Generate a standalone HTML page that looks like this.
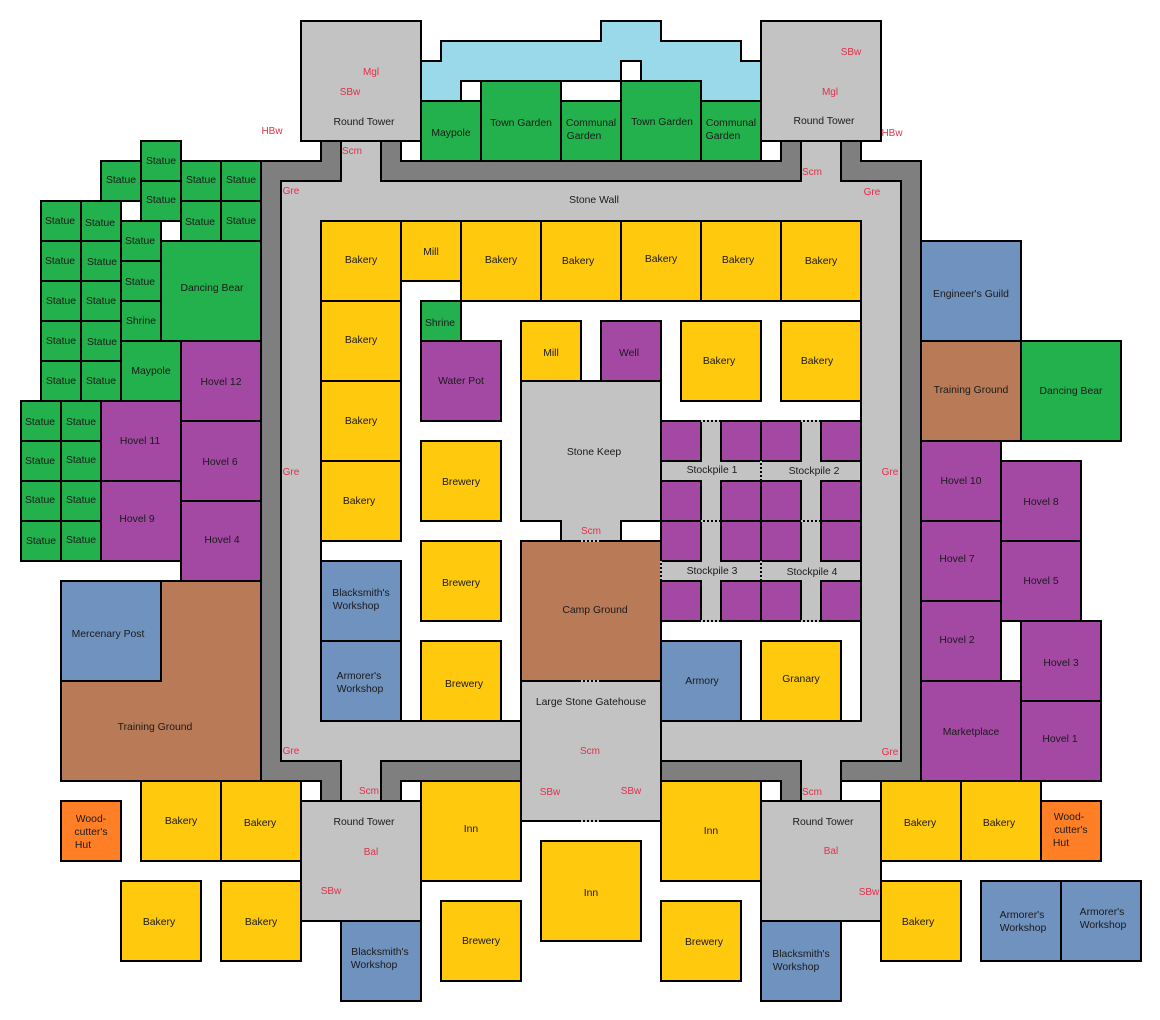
<!DOCTYPE html>
<html><head><meta charset="utf-8"><style>
html,body{margin:0;padding:0;background:#fff}
svg{display:block}
rect,polygon{stroke:#000;stroke-width:2}
.y{fill:#ffc90e}.g{fill:#22b14c}.p{fill:#a349a4}.b{fill:#7092be}.w{fill:#b97a57}.o{fill:#ff7f27}.s{fill:#c3c3c3}.d{fill:#7f7f7f}.a{fill:#99d9ea}.n{fill:#fff}
.np{stroke:none}
text{font-family:"Liberation Sans",sans-serif;font-size:10.4px;fill:#1a1a1a;text-anchor:middle}
.r text{fill:#e0304a;font-size:10px}
.dot{stroke:#000;stroke-width:2;stroke-dasharray:2 2;fill:none}
.gl{stroke:#c3c3c3;stroke-width:2}
</style></head><body>
<svg width="1160" height="1020" viewBox="0 0 1160 1020" xmlns="http://www.w3.org/2000/svg">
<rect class="n np" width="1160" height="1020"/>
<!-- water -->
<polygon class="a" points="421,61 441,61 441,41 601,41 601,21 661,21 661,41 741,41 741,61 761,61 761,121 421,121"/>
<rect class="n" x="461" y="81" width="20" height="20"/>
<rect class="n" x="621" y="61" width="20" height="20"/>
<rect class="n" x="561" y="81" width="60" height="20"/>
<!-- wall -->
<polygon class="d" points="261,161 321,161 321,121 401,121 401,161 781,161 781,121 861,121 861,161 921,161 921,781 841,781 841,821 781,821 781,781 401,781 401,821 321,821 321,781 261,781"/>
<polygon class="s" points="281,181 341,181 341,121 381,121 381,181 801,181 801,121 841,121 841,181 901,181 901,761 841,761 841,821 801,821 801,761 381,761 381,821 341,821 341,761 281,761"/>
<!-- inner yard -->
<rect class="n" x="321" y="221" width="540" height="500"/>
<!-- stockpiles -->
<rect class="s" x="661" y="421" width="200" height="200"/>
<g class="p">
<rect x="661" y="421" width="40" height="40"/><rect x="721" y="421" width="40" height="40"/><rect x="761" y="421" width="40" height="40"/><rect x="821" y="421" width="40" height="40"/>
<rect x="661" y="481" width="40" height="40"/><rect x="721" y="481" width="40" height="40"/><rect x="761" y="481" width="40" height="40"/><rect x="821" y="481" width="40" height="40"/>
<rect x="661" y="521" width="40" height="40"/><rect x="721" y="521" width="40" height="40"/><rect x="761" y="521" width="40" height="40"/><rect x="821" y="521" width="40" height="40"/>
<rect x="661" y="581" width="40" height="40"/><rect x="721" y="581" width="40" height="40"/><rect x="761" y="581" width="40" height="40"/><rect x="821" y="581" width="40" height="40"/>
</g>
<!-- keep etc -->
<polygon class="s" points="521,381 661,381 661,521 621,521 621,541 561,541 561,521 521,521"/>
<rect class="w" x="521" y="541" width="140" height="140"/>
<rect class="s" x="521" y="681" width="140" height="140"/>
<!-- towers -->
<rect class="s" x="301" y="21" width="120" height="120"/>
<rect class="s" x="761" y="21" width="120" height="120"/>
<rect class="s" x="301" y="801" width="120" height="120"/>
<rect class="s" x="761" y="801" width="120" height="120"/>
<!-- green -->
<g class="g">
<rect x="421" y="101" width="60" height="60"/><rect x="481" y="81" width="80" height="80"/><rect x="561" y="101" width="60" height="60"/><rect x="621" y="81" width="80" height="80"/><rect x="701" y="101" width="60" height="60"/>
<rect x="141" y="141" width="40" height="40"/><rect x="141" y="181" width="40" height="40"/><rect x="101" y="161" width="40" height="40"/>
<rect x="181" y="161" width="40" height="40"/><rect x="221" y="161" width="40" height="40"/><rect x="181" y="201" width="40" height="40"/><rect x="221" y="201" width="40" height="40"/>
<rect x="41" y="201" width="40" height="40"/><rect x="81" y="201" width="40" height="40"/><rect x="41" y="241" width="40" height="40"/><rect x="81" y="241" width="40" height="40"/><rect x="41" y="281" width="40" height="40"/><rect x="81" y="281" width="40" height="40"/><rect x="41" y="321" width="40" height="40"/><rect x="81" y="321" width="40" height="40"/><rect x="41" y="361" width="40" height="40"/><rect x="81" y="361" width="40" height="40"/>
<rect x="121" y="221" width="40" height="40"/><rect x="121" y="261" width="40" height="40"/><rect x="121" y="301" width="40" height="40"/>
<rect x="161" y="241" width="100" height="100"/><rect x="121" y="341" width="60" height="60"/>
<rect x="21" y="401" width="40" height="40"/><rect x="61" y="401" width="40" height="40"/><rect x="21" y="441" width="40" height="40"/><rect x="61" y="441" width="40" height="40"/><rect x="21" y="481" width="40" height="40"/><rect x="61" y="481" width="40" height="40"/><rect x="21" y="521" width="40" height="40"/><rect x="61" y="521" width="40" height="40"/>
<rect x="421" y="301" width="40" height="40"/>
<rect x="1021" y="341" width="100" height="100"/>
</g>
<!-- purple -->
<g class="p">
<rect x="181" y="341" width="80" height="80"/><rect x="101" y="401" width="80" height="80"/><rect x="181" y="421" width="80" height="80"/><rect x="101" y="481" width="80" height="80"/><rect x="181" y="501" width="80" height="80"/>
<rect x="421" y="341" width="80" height="80"/><rect x="601" y="321" width="60" height="60"/>
<rect x="921" y="441" width="80" height="80"/><rect x="1001" y="461" width="80" height="80"/><rect x="921" y="521" width="80" height="80"/><rect x="1001" y="541" width="80" height="80"/><rect x="921" y="601" width="80" height="80"/><rect x="1021" y="621" width="80" height="80"/><rect x="921" y="681" width="100" height="100"/><rect x="1021" y="701" width="80" height="80"/>
</g>
<!-- blue -->
<g class="b">
<rect x="61" y="581" width="100" height="100"/><rect x="321" y="561" width="80" height="80"/><rect x="321" y="641" width="80" height="80"/><rect x="661" y="641" width="80" height="80"/><rect x="921" y="241" width="100" height="100"/>
<rect x="341" y="921" width="80" height="80"/><rect x="761" y="921" width="80" height="80"/><rect x="981" y="881" width="80" height="80"/><rect x="1061" y="881" width="80" height="80"/>
</g>
<!-- brown -->
<polygon class="w" points="161,581 261,581 261,781 61,781 61,681 161,681"/>
<rect class="w" x="921" y="341" width="100" height="100"/>
<!-- orange -->
<rect class="o" x="61" y="801" width="60" height="60"/><rect class="o" x="1041" y="801" width="60" height="60"/>
<!-- yellow -->
<g class="y">
<rect x="321" y="221" width="80" height="80"/><rect x="401" y="221" width="60" height="60"/><rect x="461" y="221" width="80" height="80"/><rect x="541" y="221" width="80" height="80"/><rect x="621" y="221" width="80" height="80"/><rect x="701" y="221" width="80" height="80"/><rect x="781" y="221" width="80" height="80"/>
<rect x="321" y="301" width="80" height="80"/><rect x="321" y="381" width="80" height="80"/><rect x="321" y="461" width="80" height="80"/>
<rect x="521" y="321" width="60" height="60"/><rect x="681" y="321" width="80" height="80"/><rect x="781" y="321" width="80" height="80"/>
<rect x="421" y="441" width="80" height="80"/><rect x="421" y="541" width="80" height="80"/><rect x="421" y="641" width="80" height="80"/><rect x="761" y="641" width="80" height="80"/>
<rect x="141" y="781" width="80" height="80"/><rect x="221" y="781" width="80" height="80"/><rect x="121" y="881" width="80" height="80"/><rect x="221" y="881" width="80" height="80"/>
<rect x="421" y="781" width="100" height="100"/><rect x="541" y="841" width="100" height="100"/><rect x="661" y="781" width="100" height="100"/>
<rect x="441" y="901" width="80" height="80"/><rect x="661" y="901" width="80" height="80"/>
<rect x="881" y="781" width="80" height="80"/><rect x="961" y="781" width="80" height="80"/><rect x="881" y="881" width="80" height="80"/>
</g>
<!-- dotted doors -->
<g>
<path class="gl" d="M701 421H721M801 421H821M701 521H721M801 521H821M701 621H721M801 621H821M761 461V481M761 561V581M661 561V581M581 541H601M581 681H601M581 821H601"/>
<path class="dot" d="M703 421H721M803 421H821M703 521H721M803 521H821M703 621H721M803 621H821M761 463V481M761 563V581M661 563V581M583 541H601M583 681H601M583 821H601"/>
</g>
<!-- labels -->
<text x="364" y="125">Round Tower</text><text x="824" y="124">Round Tower</text><text x="364" y="825">Round Tower</text><text x="823" y="825">Round Tower</text>
<text x="451" y="136">Maypole</text><text x="521" y="126">Town Garden</text><text x="662" y="125">Town Garden</text>
<text x="591" y="126">Communal</text><text x="584" y="139">Garden</text><text x="731" y="126">Communal</text><text x="723" y="139">Garden</text>
<text x="594" y="203">Stone Wall</text>
<text x="161" y="164">Statue</text><text x="121" y="183">Statue</text><text x="161" y="203">Statue</text><text x="201" y="183">Statue</text><text x="241" y="183">Statue</text><text x="200" y="225">Statue</text><text x="241" y="224">Statue</text>
<text x="60" y="224">Statue</text><text x="100" y="226">Statue</text><text x="60" y="264">Statue</text><text x="102" y="265">Statue</text><text x="61" y="304">Statue</text><text x="101" y="304">Statue</text><text x="61" y="344">Statue</text><text x="102" y="345">Statue</text><text x="61" y="384">Statue</text><text x="101" y="384">Statue</text>
<text x="140" y="244">Statue</text><text x="140" y="285">Statue</text><text x="141" y="324">Shrine</text><text x="212" y="291">Dancing Bear</text><text x="151" y="374">Maypole</text>
<text x="221" y="385">Hovel 12</text><text x="140" y="444">Hovel 11</text><text x="220" y="465">Hovel 6</text><text x="137" y="522">Hovel 9</text><text x="222" y="543">Hovel 4</text>
<text x="40" y="425">Statue</text><text x="81" y="425">Statue</text><text x="40" y="464">Statue</text><text x="81" y="463">Statue</text><text x="40" y="503">Statue</text><text x="81" y="503">Statue</text><text x="41" y="544">Statue</text><text x="81" y="543">Statue</text>
<text x="108" y="637">Mercenary Post</text><text x="155" y="730">Training Ground</text>
<text x="361" y="263">Bakery</text><text x="431" y="255">Mill</text><text x="501" y="263">Bakery</text><text x="578" y="264">Bakery</text><text x="661" y="262">Bakery</text><text x="738" y="263">Bakery</text><text x="821" y="264">Bakery</text>
<text x="361" y="343">Bakery</text><text x="361" y="424">Bakery</text><text x="359" y="504">Bakery</text>
<text x="440" y="326">Shrine</text><text x="461" y="384">Water Pot</text><text x="551" y="356">Mill</text><text x="629" y="356">Well</text><text x="719" y="364">Bakery</text><text x="817" y="364">Bakery</text>
<text x="461" y="485">Brewery</text><text x="461" y="586">Brewery</text><text x="464" y="687">Brewery</text>
<text x="361" y="596">Blacksmith's</text><text x="356" y="609">Workshop</text><text x="359" y="679">Armorer's</text><text x="360" y="692">Workshop</text>
<text x="594" y="455">Stone Keep</text><text x="595" y="613">Camp Ground</text><text x="591" y="705">Large Stone Gatehouse</text>
<text x="712" y="473">Stockpile 1</text><text x="814" y="474">Stockpile 2</text><text x="712" y="574">Stockpile 3</text><text x="812" y="575">Stockpile 4</text>
<text x="702" y="684">Armory</text><text x="801" y="682">Granary</text>
<text x="971" y="297">Engineer's Guild</text><text x="971" y="393">Training Ground</text><text x="1071" y="394">Dancing Bear</text>
<text x="961" y="484">Hovel 10</text><text x="1041" y="505">Hovel 8</text><text x="957" y="562">Hovel 7</text><text x="1041" y="584">Hovel 5</text><text x="957" y="643">Hovel 2</text><text x="1061" y="666">Hovel 3</text><text x="971" y="735">Marketplace</text><text x="1060" y="742">Hovel 1</text>
<text x="91" y="822">Wood-</text><text x="91" y="835">cutter's</text><text x="83" y="848">Hut</text>
<text x="1069" y="820">Wood-</text><text x="1071" y="833">cutter's</text><text x="1061" y="846">Hut</text>
<text x="181" y="824">Bakery</text><text x="260" y="826">Bakery</text><text x="159" y="925">Bakery</text><text x="261" y="925">Bakery</text>
<text x="471" y="832">Inn</text><text x="591" y="896">Inn</text><text x="711" y="834">Inn</text><text x="481" y="944">Brewery</text><text x="704" y="945">Brewery</text>
<text x="380" y="955">Blacksmith's</text><text x="374" y="968">Workshop</text><text x="801" y="957">Blacksmith's</text><text x="796" y="970">Workshop</text>
<text x="920" y="826">Bakery</text><text x="999" y="826">Bakery</text><text x="918" y="925">Bakery</text>
<text x="1022" y="918">Armorer's</text><text x="1023" y="931">Workshop</text><text x="1102" y="915">Armorer's</text><text x="1103" y="928">Workshop</text>
<g class="r">
<text x="371" y="75">Mgl</text><text x="350" y="95">SBw</text><text x="272" y="134">HBw</text><text x="352" y="154">Scm</text><text x="291" y="194">Gre</text>
<text x="851" y="55">SBw</text><text x="830" y="95">Mgl</text><text x="892" y="136">HBw</text><text x="812" y="175">Scm</text><text x="872" y="195">Gre</text>
<text x="291" y="475">Gre</text><text x="890" y="475">Gre</text><text x="291" y="754">Gre</text><text x="890" y="755">Gre</text>
<text x="591" y="534">Scm</text><text x="590" y="754">Scm</text><text x="550" y="795">SBw</text><text x="631" y="794">SBw</text>
<text x="369" y="794">Scm</text><text x="812" y="795">Scm</text><text x="371" y="855">Bal</text><text x="831" y="854">Bal</text><text x="331" y="894">SBw</text><text x="869" y="895">SBw</text>
</g>
</svg>
</body></html>
